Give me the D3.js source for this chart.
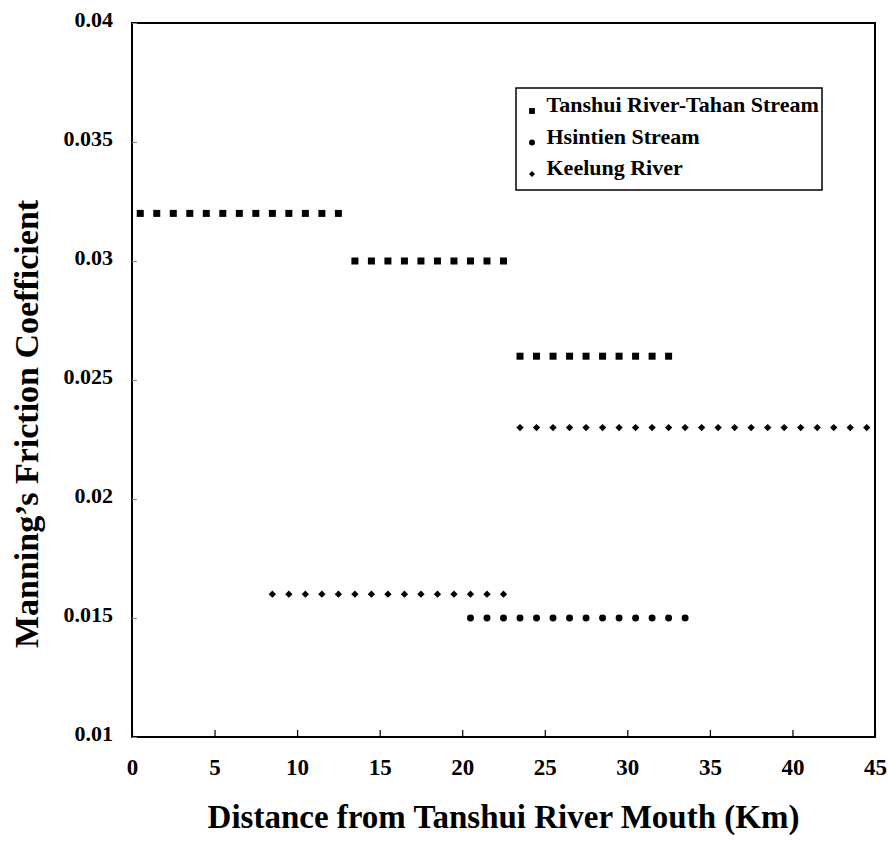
<!DOCTYPE html>
<html>
<head>
    <meta charset="utf-8">
    <title>Manning's Friction Coefficient</title>
    <script src="https://d3js.org/d3.v7.min.js" charset="utf-8"></script>
    <style>
        html, body { margin: 0; padding: 0; background: #fff; }
        text { font-family: "Liberation Serif", "Times New Roman", serif; font-weight: bold; fill: #000; }
    </style>
</head>
<body>
<script>
    // Data: distance (km) and Manning's n for each river reach
    const tanshuiKm = [0.5, 1.5, 2.5, 3.5, 4.5, 5.5, 6.5, 7.5, 8.5, 9.5, 10.5, 11.5, 12.5,
                       13.5, 14.5, 15.5, 16.5, 17.5, 18.5, 19.5, 20.5, 21.5, 22.5,
                       23.5, 24.5, 25.5, 26.5, 27.5, 28.5, 29.5, 30.5, 31.5, 32.5];
    const tanshuiN = [0.032, 0.032, 0.032, 0.032, 0.032, 0.032, 0.032, 0.032, 0.032, 0.032, 0.032, 0.032, 0.032,
                      0.030, 0.030, 0.030, 0.030, 0.030, 0.030, 0.030, 0.030, 0.030, 0.030,
                      0.026, 0.026, 0.026, 0.026, 0.026, 0.026, 0.026, 0.026, 0.026, 0.026];

    const hsintienKm = [20.5, 21.5, 22.5, 23.5, 24.5, 25.5, 26.5, 27.5, 28.5, 29.5, 30.5, 31.5, 32.5, 33.5];
    const hsintienN = [0.015, 0.015, 0.015, 0.015, 0.015, 0.015, 0.015, 0.015, 0.015, 0.015, 0.015, 0.015, 0.015, 0.015];

    const keelungKm = [8.5, 9.5, 10.5, 11.5, 12.5, 13.5, 14.5, 15.5, 16.5, 17.5, 18.5, 19.5, 20.5, 21.5, 22.5,
                       23.5, 24.5, 25.5, 26.5, 27.5, 28.5, 29.5, 30.5, 31.5, 32.5, 33.5, 34.5, 35.5, 36.5,
                       37.5, 38.5, 39.5, 40.5, 41.5, 42.5, 43.5, 44.5];
    const keelungN = [0.016, 0.016, 0.016, 0.016, 0.016, 0.016, 0.016, 0.016, 0.016, 0.016, 0.016, 0.016, 0.016, 0.016, 0.016,
                      0.023, 0.023, 0.023, 0.023, 0.023, 0.023, 0.023, 0.023, 0.023, 0.023, 0.023, 0.023, 0.023, 0.023,
                      0.023, 0.023, 0.023, 0.023, 0.023, 0.023, 0.023, 0.023];

    const xTicks = [0, 5, 10, 15, 20, 25, 30, 35, 40, 45];
    const yTicks = [0.01, 0.015, 0.02, 0.025, 0.03, 0.035, 0.04];
    const seriesNames = ["Tanshui River-Tahan Stream", "Hsintien Stream", "Keelung River"];

    const width = 888;
    const height = 846;
    const margin = { top: 23, right: 13, bottom: 109, left: 132 };

    const svg = d3.select("body").append("svg")
        .attr("width", width)
        .attr("height", height);

    const x = d3.scaleLinear().domain([0, 45]).range([margin.left, width - margin.right]);
    const y = d3.scaleLinear().domain([0.01, 0.04]).range([height - margin.bottom, margin.top]);

    // plot frame
    svg.append("rect")
        .attr("x", x(0)).attr("y", y(0.04))
        .attr("width", x(45) - x(0)).attr("height", y(0.01) - y(0.04))
        .attr("fill", "none").attr("stroke", "#000").attr("stroke-width", 2);

    // x axis, ticks pointing inward
    const xAxis = svg.append("g")
        .attr("transform", `translate(0,${y(0.01)})`)
        .call(d3.axisBottom(x).tickValues(xTicks).tickSize(-7).tickPadding(22).tickFormat(d3.format("d")));
    xAxis.select(".domain").remove();
    xAxis.selectAll("line").attr("stroke", "#000").attr("stroke-width", 1.2);
    xAxis.selectAll("text").attr("font-size", 23).attr("font-family", null);

    // y axis, ticks pointing inward
    const yAxis = svg.append("g")
        .attr("transform", `translate(${x(0)},0)`)
        .call(d3.axisLeft(y).tickValues(yTicks).tickSize(-5).tickPadding(19)
            .tickFormat(d => String(+d.toFixed(3))));
    yAxis.select(".domain").remove();
    yAxis.selectAll("line").attr("stroke", "#888").attr("stroke-width", 1);
    yAxis.selectAll("text").attr("font-size", 22).attr("font-family", null).attr("dy", "0.15em");

    // axis titles
    svg.append("text")
        .attr("x", (x(0) + x(45)) / 2).attr("y", 828)
        .attr("text-anchor", "middle").attr("font-size", 33)
        .text("Distance from Tanshui River Mouth (Km)");

    svg.append("text")
        .attr("transform", `translate(38,424) rotate(-90)`)
        .attr("text-anchor", "middle").attr("font-size", 34)
        .text("Manning\u2019s Friction Coefficient");

    // markers
    const square = d3.symbol().type(d3.symbolSquare).size(49);
    const circle = d3.symbol().type(d3.symbolCircle).size(38);
    const diamond = d3.symbol().type(d3.symbolSquare).size(27);

    svg.append("g").selectAll("path")
        .data(tanshuiKm.map((k, i) => [k, tanshuiN[i]]))
        .join("path")
        .attr("d", square)
        .attr("transform", d => `translate(${x(d[0])},${y(d[1])})`);

    svg.append("g").selectAll("path")
        .data(hsintienKm.map((k, i) => [k, hsintienN[i]]))
        .join("path")
        .attr("d", circle)
        .attr("transform", d => `translate(${x(d[0])},${y(d[1])})`);

    svg.append("g").selectAll("path")
        .data(keelungKm.map((k, i) => [k, keelungN[i]]))
        .join("path")
        .attr("d", diamond)
        .attr("transform", d => `translate(${x(d[0])},${y(d[1])}) rotate(45)`);

    // legend
    const legend = svg.append("g").attr("transform", "translate(516,88)");
    legend.append("rect")
        .attr("width", 306).attr("height", 102)
        .attr("fill", "#fff").attr("stroke", "#000").attr("stroke-width", 1.5);

    const legendSymbols = [
        d3.symbol().type(d3.symbolSquare).size(34)(),
        d3.symbol().type(d3.symbolCircle).size(28)(),
        d3.symbol().type(d3.symbolSquare).size(18)()
    ];
    seriesNames.forEach((name, i) => {
        const row = legend.append("g").attr("transform", `translate(0,${24 + i * 31.5})`);
        row.append("path")
            .attr("d", legendSymbols[i])
            .attr("transform", `translate(16,-1)${i === 2 ? " rotate(45)" : ""}`);
        row.append("text").attr("x", 30.5).attr("y", 0)
            .attr("font-size", 22).text(name);
    });
</script>
</body>
</html>
